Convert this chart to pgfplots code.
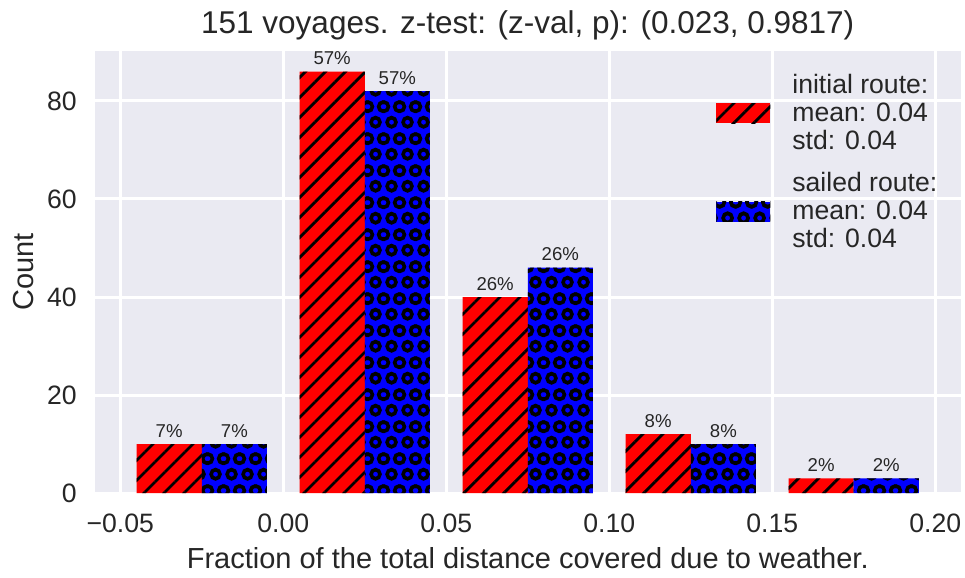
\documentclass[border=0pt]{standalone}
\usepackage{pgfplots}
\pgfplotsset{compat=1.18}
\usepackage{fontspec}
\setmainfont{Liberation Sans}
\usetikzlibrary{patterns,patterns.meta,calc}
\definecolor{bgc}{HTML}{EAEAF2}
\definecolor{txt}{HTML}{262626}
\pgfdeclarepatternformonly{rings}{\pgfqpoint{0bp}{0bp}}{\pgfqpoint{8bp}{16bp}}{\pgfqpoint{8bp}{16bp}}{%
 \pgfsetlinewidth{1.9bp}%
 \pgfpathcircle{\pgfqpoint{4bp}{4bp}}{2.35bp}%
 \pgfpathcircle{\pgfqpoint{0bp}{12bp}}{2.35bp}%
 \pgfpathcircle{\pgfqpoint{8bp}{12bp}}{2.35bp}%
 \pgfusepath{stroke}}
\pgfplotsset{patchlegend/.style={legend image code/.code={\path[##1] (0bp,-5bp) rectangle (27bp,5bp);}}}
\begin{document}
\begin{tikzpicture}
\begin{axis}[name=ax, scale only axis, width=432.75bp, height=221.25bp,
 xmin=-0.05775, xmax=0.20775, ymin=0, ymax=90.3,
 axis background/.style={fill=bgc},
 axis line style={draw=none},
 major tick length=0pt,
 grid=major, major grid style={white, line width=1.5bp},
 xtick={-0.05,0,0.05,0.1,0.15,0.2},
 xticklabels={−0.05,0.00,0.05,0.10,0.15,0.20},
 ytick={0,20,40,60,80}, yticklabels={0,20,40,60,80},
 xticklabel style={font=\fontsize{13.3bp}{15bp}\selectfont, text=txt, anchor=base, inner sep=0pt, yshift=-19.5bp},
 yticklabel style={font=\fontsize{13.3bp}{15bp}\selectfont, text=txt, anchor=east, inner sep=0pt, xshift=-9bp},
 every axis title shift=0pt,
 title={151 voyages. z-test: (z-val, p): (0.023, 0.9817)},
 title style={font=\fontsize{15.75bp}{18bp}\selectfont, text=txt, at={(axis description cs:0.5,1)}, anchor=base, inner sep=0pt, yshift=8.75bp},
 xlabel={Fraction of the total distance covered due to weather.},
 ylabel={Count},
 every axis x label/.style={font=\fontsize{14.5bp}{17bp}\selectfont, text=txt, at={(axis description cs:0.5,0)}, anchor=base, inner sep=0pt, yshift=-37.5bp},
 every axis y label/.style={font=\fontsize{14.5bp}{17bp}\selectfont, text=txt, at={(axis description cs:0,0.5)}, xshift=-35.5bp, rotate=90, anchor=center, inner sep=0pt},
 ybar, bar width=0.02,
 patchlegend,
 point meta=explicit symbolic,
 nodes near coords,
 every node near coord/.append style={font=\fontsize{9.3bp}{10bp}\selectfont, text=txt, anchor=base, inner sep=0pt, yshift=3.5bp},
 legend style={draw=none, fill=none, at={(axis description cs:0.7175,0.9565)}, anchor=north west, inner sep=0pt, column sep=9bp, row sep=6bp, font=\fontsize{13.3bp}{14bp}\selectfont, text=txt, cells={align=left, inner sep=0pt}},
 legend cell align=left,
]
\addplot[bar shift=0pt, draw=none, fill=red, postaction={pattern={Lines[angle=45,distance=7.07bp,line width=1.4bp]}, pattern color=black}]
 coordinates {(-0.035,10)[7\%] (0.015,86)[57\%] (0.065,40)[26\%] (0.115,12)[8\%] (0.165,3)[2\%]};
\addlegendentry{initial route:\\mean: 0.04\\std: 0.04}
\addplot[bar shift=0pt, draw=none, fill=blue, postaction={pattern=rings, pattern color=black}]
 coordinates {(-0.015,10)[7\%] (0.035,82)[57\%] (0.085,46)[26\%] (0.135,10)[8\%] (0.185,3)[2\%]};
\addlegendentry{sailed route:\\mean: 0.04\\std: 0.04}
\end{axis}
\pgfresetboundingbox
\path ($(ax.south west)+(-47.5bp,-42bp)$) rectangle ($(ax.north east)+(2.25bp,25.25bp)$);
\end{tikzpicture}
\end{document}
